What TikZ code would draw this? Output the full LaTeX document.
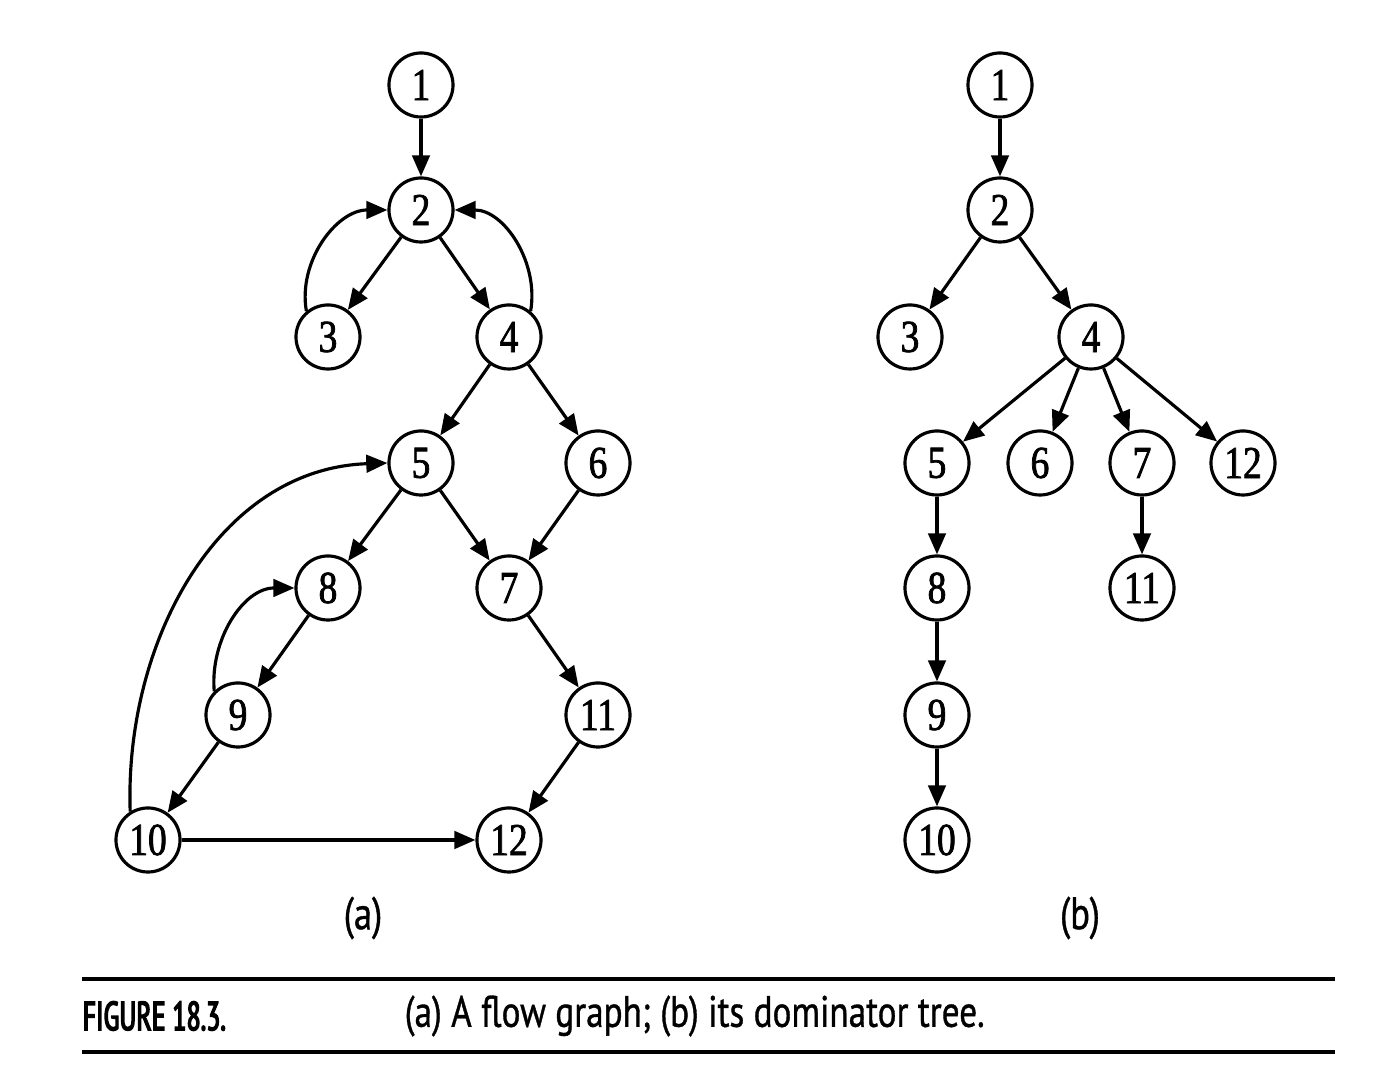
\documentclass[tikz,border=0pt]{standalone}
\usepackage{fontspec}
\setmainfont{Liberation Serif}
\newfontfamily\numfont[FakeStretch=0.82,FakeBold=1.6]{Liberation Serif}
\newfontfamily\capfont[FakeStretch=0.8,FakeBold=0.8]{PT Sans}
\newfontfamily\figfont[FakeStretch=0.64,FakeBold=3.5]{PT Sans}
\usetikzlibrary{arrows.meta}
\begin{document}
\begin{tikzpicture}[x=0.01cm,y=-0.01cm,
  vtx/.style={circle,draw,line width=0.9pt,minimum size=0.64cm,inner sep=0pt,font=\numfont\fontsize{13}{15}\selectfont},
  arr/.style={line width=0.9pt,-{Triangle[length=6pt,width=5pt]}},
  lbl/.style={font=\capfont\fontsize{13}{15}\selectfont}]
\useasboundingbox (0,0) rectangle (1393,1071);
% (a)
\node[vtx] (a1) at (421,85) {1};
\node[vtx] (a2) at (421,210) {2};
\node[vtx] (a3) at (328,337) {3};
\node[vtx] (a4) at (509,337) {4};
\node[vtx] (a5) at (421,463) {5};
\node[vtx] (a6) at (598,463) {6};
\node[vtx] (a7) at (509,588) {7};
\node[vtx] (a8) at (328,588) {8};
\node[vtx] (a9) at (238,715) {9};
\node[vtx] (a11) at (598,715) {11};
\node[vtx] (a10) at (148,840) {10};
\node[vtx] (a12) at (509,840) {12};
\draw[arr] (a1) -- (a2);
\draw[arr] (a2) -- (a3);
\draw[arr] (a2) -- (a4);
\draw[arr] (a4) -- (a5);
\draw[arr] (a4) -- (a6);
\draw[arr] (a5) -- (a8);
\draw[arr] (a5) -- (a7);
\draw[arr] (a6) -- (a7);
\draw[arr] (a8) -- (a9);
\draw[arr] (a7) -- (a11);
\draw[arr] (a9) -- (a10);
\draw[arr] (a11) -- (a12);
\draw[arr] (a10) -- (a12);
\draw[arr] (a3.130) to[out=100,in=180] (a2.west);
\draw[arr] (a4.50) to[out=80,in=0] (a2.east);
\draw[arr] (a9.135) to[out=95,in=180] (a8.west);
\draw[arr] (a10.122) to[out=92,in=182] (a5.west);
\node[lbl] (la) at (363,918) {(a)};
% (b)
\node[vtx] (b1) at (1000,85) {1};
\node[vtx] (b2) at (1000,210) {2};
\node[vtx] (b3) at (910,337) {3};
\node[vtx] (b4) at (1091,337) {4};
\node[vtx] (b5) at (937,463) {5};
\node[vtx] (b6) at (1040,463) {6};
\node[vtx] (b7) at (1142,463) {7};
\node[vtx] (b12) at (1243,463) {12};
\node[vtx] (b8) at (937,588) {8};
\node[vtx] (b11) at (1142,588) {11};
\node[vtx] (b9) at (937,715) {9};
\node[vtx] (b10) at (937,840) {10};
\draw[arr] (b1) -- (b2);
\draw[arr] (b2) -- (b3);
\draw[arr] (b2) -- (b4);
\draw[arr] (b4) -- (b5);
\draw[arr] (b4) -- (b6);
\draw[arr] (b4) -- (b7);
\draw[arr] (b4) -- (b12);
\draw[arr] (b5) -- (b8);
\draw[arr] (b8) -- (b9);
\draw[arr] (b9) -- (b10);
\draw[arr] (b7) -- (b11);
\node[lbl] (lb) at (1080,918) {(b)};
% caption
\coordinate (r1l) at (82,979);
\coordinate (r1r) at (1335,979);
\coordinate (r2l) at (82,1052);
\coordinate (r2r) at (1335,1052);
\draw[line width=1.4pt] (r1l) -- (r1r);
\draw[line width=1.4pt] (r2l) -- (r2r);
\node[anchor=west,inner sep=0pt,font=\figfont\fontsize{11.5}{13}\selectfont] (fig) at (82,1016) {FIGURE 18.3.};
\node[anchor=west,inner sep=0pt,font=\capfont\fontsize{12.5}{14}\selectfont] (cap) at (404,1016) {(a) A flow graph; (b) its dominator tree.};
\end{tikzpicture}
\end{document}
